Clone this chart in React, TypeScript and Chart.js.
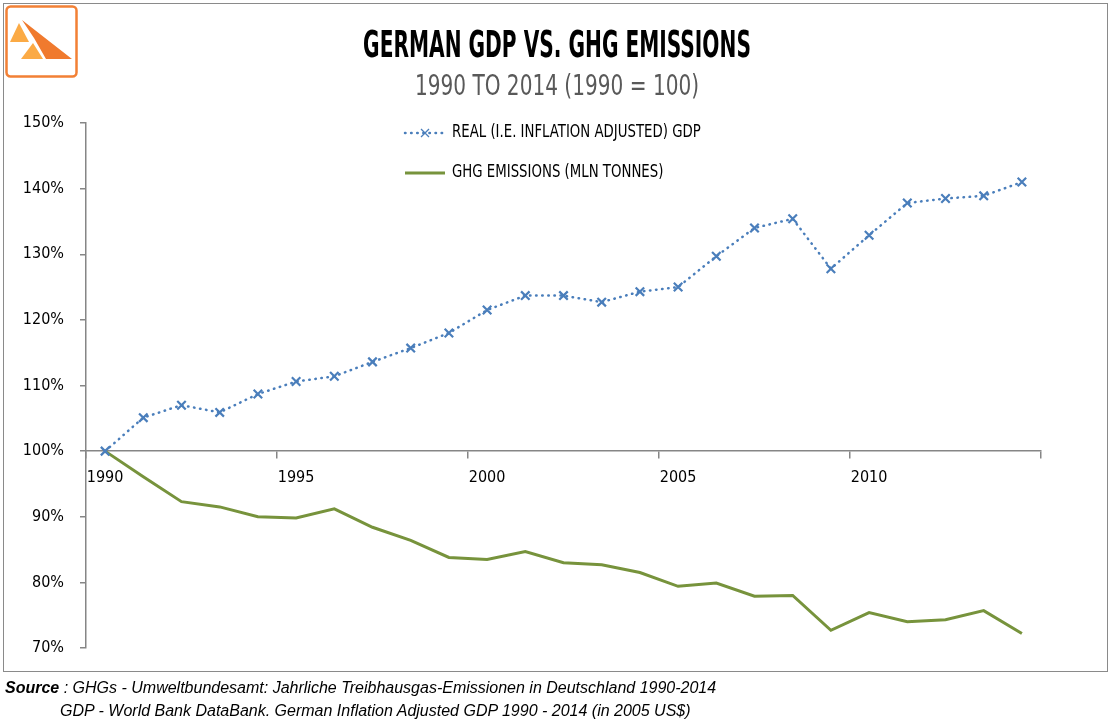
import React, { useEffect, useRef } from "react";
import { Chart, registerables } from "chart.js";

Chart.register(...registerables);

const years = [
  "1990", "1991", "1992", "1993", "1994", "1995", "1996", "1997", "1998", "1999",
  "2000", "2001", "2002", "2003", "2004", "2005", "2006", "2007", "2008", "2009",
  "2010", "2011", "2012", "2013", "2014",
];

const gdpIndex = [
  100.0, 105.1, 107.0, 105.9, 108.7, 110.6, 111.4, 113.6, 115.7, 118.0,
  121.5, 123.7, 123.7, 122.7, 124.3, 125.0, 129.7, 134.0, 135.4, 127.8,
  132.9, 137.8, 138.5, 138.9, 141.0,
];

const ghgIndex = [
  100.0, 96.1, 92.3, 91.5, 90.0, 89.8, 91.2, 88.4, 86.4, 83.8,
  83.5, 84.7, 83.0, 82.7, 81.5, 79.4, 79.9, 77.9, 78.0, 72.7,
  75.4, 74.0, 74.3, 75.7, 72.2,
];

const seriesNames = ["REAL (I.E. INFLATION ADJUSTED) GDP", "GHG EMISSIONS (MLN TONNES)"];
const yMin = 70;
const yMax = 150;
const yStep = 10;
const labelEvery = 5;

const titleText = "GERMAN GDP VS. GHG EMISSIONS";
const subtitleText = "1990 TO 2014 (1990 = 100)";
const sourceLine1 = "GHGs - Umweltbundesamt: Jahrliche Treibhausgas-Emissionen in Deutschland 1990-2014";
const sourceLine2 = "GDP - World Bank DataBank. German Inflation Adjusted GDP 1990 - 2014 (in 2005 US$)";

const NARROW = "'Liberation Sans Narrow', 'DejaVu Sans Condensed', 'Arial Narrow', sans-serif";
const BLUE = "#4A7EBB";
const GREEN = "#77933C";
const AXIS = "#868686";

const legendPlugin = {
  id: "customLegend",
  afterDraw(chart: any) {
    const ctx = chart.ctx;
    const rows = [133, 173];
    ctx.save();
    chart.data.datasets.forEach((ds: any, i: number) => {
      const y = rows[i];
      ctx.save();
      ctx.strokeStyle = ds.borderColor;
      ctx.lineWidth = ds.borderWidth;
      ctx.lineCap = ds.borderCapStyle || "butt";
      ctx.setLineDash(ds.borderDash || []);
      ctx.beginPath();
      ctx.moveTo(405, y);
      ctx.lineTo(445, y);
      ctx.stroke();
      ctx.setLineDash([]);
      if (ds.pointRadius > 0) {
        const r = 4;
        ctx.lineWidth = 1.3;
        ctx.lineCap = "butt";
        ctx.beginPath();
        ctx.moveTo(425 - r, y - r);
        ctx.lineTo(425 + r, y + r);
        ctx.moveTo(425 - r, y + r);
        ctx.lineTo(425 + r, y - r);
        ctx.stroke();
      }
      ctx.restore();
      ctx.save();
      ctx.translate(452, y);
      ctx.scale(0.87, 1);
      ctx.fillStyle = "#000";
      ctx.font = `17px ${NARROW}`;
      ctx.textBaseline = "middle";
      ctx.textAlign = "left";
      ctx.fillText(ds.label, 0, 0);
      ctx.restore();
    });
    ctx.restore();
  },
};

function Logo() {
  return (
    <svg
      width={74}
      height={74}
      viewBox="0 0 74 74"
      style={{ position: "absolute", left: 5, top: 5 }}
    >
      <rect x={1.5} y={1.5} width={70} height={70} rx={4} ry={4} fill="#fff" stroke="#F28035" strokeWidth={2.5} />
      <polygon points="14,18 5,37 24,37" fill="#FBAA45" />
      <polygon points="28,38 16,54 38,54" fill="#FBAA45" />
      <polygon points="17,15 67,54 41,54 29,33" fill="#F07A2E" />
    </svg>
  );
}

export default function App() {
  const canvasRef = useRef<HTMLCanvasElement | null>(null);

  useEffect(() => {
    document.body.style.margin = "0";
    const canvas = canvasRef.current;
    if (!canvas) return;
    const chart = new Chart(canvas, {
      type: "line",
      data: {
        labels: years,
        datasets: [
          {
            label: seriesNames[0],
            data: gdpIndex,
            borderColor: BLUE,
            backgroundColor: BLUE,
            borderWidth: 2.5,
            borderDash: [0.5, 5.6],
            borderCapStyle: "round",
            pointStyle: "crossRot",
            pointRadius: 6,
            pointBorderWidth: 2.2,
            pointBorderColor: BLUE,
            tension: 0,
            fill: false,
            order: 1,
          },
          {
            label: seriesNames[1],
            data: ghgIndex,
            borderColor: GREEN,
            backgroundColor: GREEN,
            borderWidth: 3,
            pointRadius: 0,
            tension: 0,
            fill: false,
            order: 2,
          },
        ] as any,
      },
      options: {
        responsive: false,
        animation: false,
        layout: { padding: { left: 0, top: 123, right: 73, bottom: 75 } },
        plugins: {
          legend: { display: false },
          tooltip: { enabled: false },
          title: { display: false },
        },
        scales: {
          x: {
            type: "category",
            offset: true,
            position: { y: 100 } as any,
            afterFit: (scale: any) => {
              scale.height = 0;
            },
            grid: {
              offset: true,
              drawOnChartArea: false,
              drawTicks: true,
              tickLength: 7,
              lineWidth: 1.5,
              color: (c: any) =>
                c.index === undefined || c.index % labelEvery === 0 ? AXIS : "rgba(0,0,0,0)",
            },
            border: { display: true, color: AXIS, width: 1.5 },
            ticks: {
              autoSkip: false,
              maxRotation: 0,
              minRotation: 0,
              padding: 10,
              color: "#000",
              font: { family: NARROW, size: 16 },
              callback: (_v: any, i: number) => (i % labelEvery === 0 ? years[i] : ""),
            },
          },
          y: {
            position: "left",
            min: yMin,
            max: yMax,
            afterFit: (scale: any) => {
              scale.width = 86;
            },
            grid: {
              drawOnChartArea: false,
              drawTicks: true,
              tickLength: 6,
              lineWidth: 1.5,
              color: AXIS,
            },
            border: { display: true, color: AXIS, width: 1.5 },
            ticks: {
              stepSize: yStep,
              padding: 16,
              color: "#000",
              font: { family: NARROW, size: 16 },
              callback: (v: any) => `${v}%`,
            },
          },
        },
      },
      plugins: [legendPlugin],
    });
    return () => chart.destroy();
  }, []);

  return (
    <div
      style={{
        position: "fixed",
        left: 0,
        top: 0,
        width: 1114,
        height: 723,
        background: "#fff",
        overflow: "hidden",
      }}
    >
      <div
        style={{
          position: "absolute",
          left: 3,
          top: 3,
          width: 1103,
          height: 667,
          border: "1.5px solid #8a8a8a",
        }}
      />
      <Logo />
      <canvas
        ref={canvasRef}
        width={1114}
        height={723}
        style={{ position: "absolute", left: 0, top: 0, width: 1114, height: 723 }}
      />
      <div
        style={{
          position: "absolute",
          left: 0,
          top: 20,
          width: 1114,
          textAlign: "center",
          font: `bold 38px ${NARROW}`,
          lineHeight: "48px",
          color: "#000",
          transform: "scaleX(0.59)",
          whiteSpace: "nowrap",
        }}
      >
        {titleText}
      </div>
      <div
        style={{
          position: "absolute",
          left: 0,
          top: 67,
          width: 1114,
          textAlign: "center",
          font: `29px ${NARROW}`,
          lineHeight: "36px",
          color: "#595959",
          transform: "scaleX(0.77)",
          whiteSpace: "nowrap",
        }}
      >
        {subtitleText}
      </div>
      <div
        style={{
          position: "absolute",
          left: 5,
          top: 677,
          font: "italic 16px 'Liberation Sans', sans-serif",
          lineHeight: "21px",
          color: "#000",
          whiteSpace: "nowrap",
        }}
      >
        <b>Source</b> : {sourceLine1}
      </div>
      <div
        style={{
          position: "absolute",
          left: 60,
          top: 700,
          font: "italic 16px 'Liberation Sans', sans-serif",
          lineHeight: "21px",
          color: "#000",
          whiteSpace: "nowrap",
        }}
      >
        {sourceLine2}
      </div>
    </div>
  );
}
